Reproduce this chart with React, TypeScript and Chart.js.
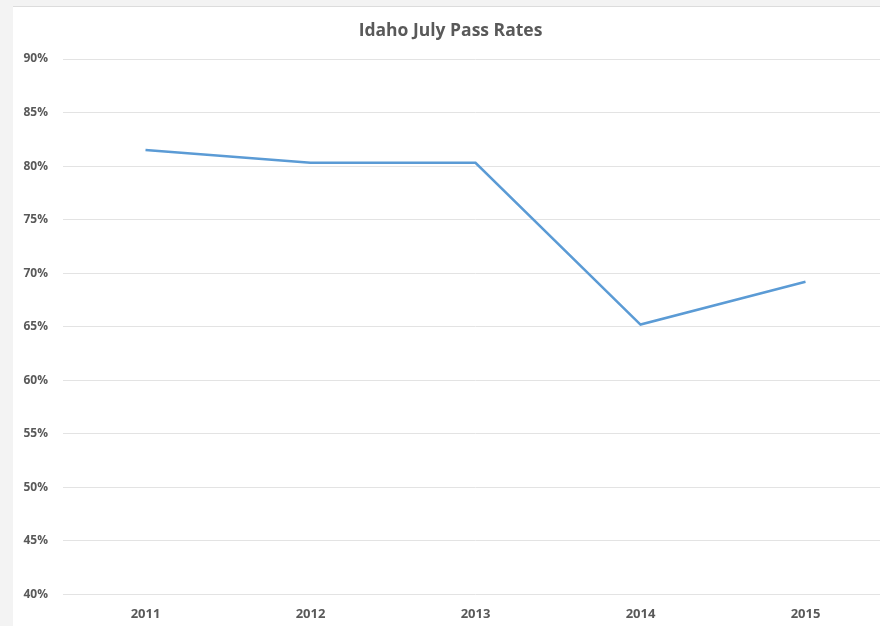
import React, { useEffect, useRef } from "react";
import { Chart, registerables } from "chart.js";

Chart.register(...registerables);

const years = ["2011", "2012", "2013", "2014", "2015"];
const passRates = [81.5, 80.3, 80.3, 65.2, 69.2];
const yTicks = [40, 45, 50, 55, 60, 65, 70, 75, 80, 85, 90];
const titleText = "Idaho July Pass Rates";

export default function App() {
  const ref = useRef<HTMLCanvasElement | null>(null);

  useEffect(() => {
    document.body.style.margin = "0";
    if (!ref.current) return;
    const chart = new Chart(ref.current, {
      type: "line",
      data: {
        labels: years,
        datasets: [
          {
            label: "Pass Rate",
            data: passRates,
            borderColor: "#5B9BD5",
            backgroundColor: "#5B9BD5",
            borderWidth: 2.5,
            pointRadius: 0,
            tension: 0,
            fill: false,
          },
        ],
      },
      options: {
        animation: false,
        responsive: false,
        maintainAspectRatio: false,
        layout: { padding: { left: 0, right: 0, top: 0, bottom: 0 } },
        plugins: {
          legend: { display: false },
          tooltip: { enabled: false },
          title: {
            display: true,
            text: titleText,
            color: "#595959",
            font: { family: "'Open Sans', sans-serif", size: 17.5, weight: "bold" },
            padding: { top: 14, bottom: 17 },
          },
        },
        scales: {
          x: {
            offset: true,
            grid: { display: false, drawTicks: false },
            border: { display: false },
            ticks: {
              color: "#595959",
              padding: 12,
              font: { family: "'Open Sans', sans-serif", size: 13, weight: "bold" },
              maxRotation: 0,
            },
          },
          y: {
            min: 40,
            max: 90,
            afterFit: (scale: any) => {
              scale.width = 50;
            },
            afterBuildTicks: (scale: any) => {
              scale.ticks = yTicks.map((v) => ({ value: v }));
            },
            grid: { color: "#e3e3e3", lineWidth: 1, drawTicks: false },
            border: { display: false },
            ticks: {
              color: "#595959",
              padding: 15,
              font: { family: "'Open Sans', sans-serif", size: 12, weight: "bold" },
              callback: (v: any) => v + "%",
            },
          },
        },
      },
    });
    return () => chart.destroy();
  }, []);

  return (
    <div
      style={{
        position: "relative",
        width: 880,
        height: 626,
        overflow: "hidden",
        background: "#f3f3f3",
      }}
    >
      <div
        style={{
          position: "absolute",
          left: 13,
          top: 6,
          width: 900,
          height: 1,
          background: "#dcdcdc",
        }}
      />
      <div
        style={{
          position: "absolute",
          left: 13,
          top: 7,
          width: 900,
          height: 630,
          background: "#ffffff",
        }}
      >
        <canvas ref={ref} width={875} height={627} style={{ display: "block" }} />
      </div>
    </div>
  );
}
